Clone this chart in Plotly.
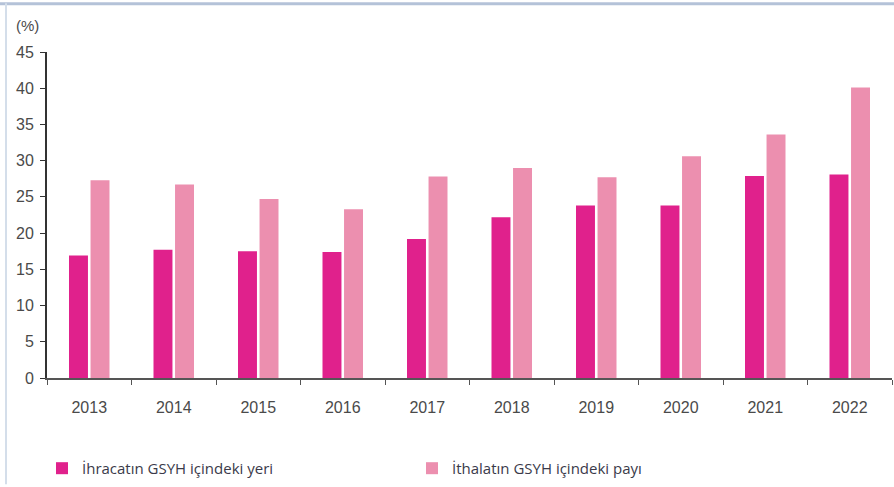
import plotly.graph_objects as go

years = ["2013", "2014", "2015", "2016", "2017", "2018", "2019", "2020", "2021", "2022"]
exports_share = [16.9, 17.7, 17.5, 17.4, 19.2, 22.2, 23.8, 23.8, 27.9, 28.1]
imports_share = [27.3, 26.7, 24.7, 23.3, 27.8, 29.0, 27.7, 30.6, 33.6, 40.1]
series_names = ["İhracatın GSYH içindeki yeri", "İthalatın GSYH içindeki payı"]
y_ticks = [0, 5, 10, 15, 20, 25, 30, 35, 40, 45]

W, H = 894, 487
ML, MR, MT, MB = 47, 2, 52, 107
pw = W - ML - MR
ph = H - MT - MB

def px_x(x):
    return (x - ML) / pw

def px_y(y):
    return (H - MB - y) / ph

fig = go.Figure()
fig.add_trace(go.Bar(x=years, y=exports_share, name=series_names[0],
                     marker=dict(color="#E0218C", line=dict(width=0))))
fig.add_trace(go.Bar(x=years, y=imports_share, name=series_names[1],
                     marker=dict(color="#EC8FAF", line=dict(width=0))))

fig.update_layout(
    width=W, height=H,
    margin=dict(l=ML, r=MR, t=MT, b=MB, pad=0),
    paper_bgcolor="white", plot_bgcolor="white",
    barmode="group", bargap=0.49, bargroupgap=0.12,
    font=dict(family="Liberation Sans, Arial, sans-serif", size=16, color="#4a4a4a"),
    showlegend=True,
    legend=dict(orientation="h", x=px_x(42), xanchor="left", y=px_y(471), yanchor="middle",
                xref="paper", yref="paper",
                font=dict(family="Open Sans, sans-serif", size=15, color="#3a3a4a"),
                entrywidth=325, entrywidthmode="pixels",
                bgcolor="rgba(0,0,0,0)", borderwidth=0, itemsizing="constant"),
    xaxis=dict(type="category", showgrid=False, showline=True, linecolor="#555555", linewidth=2,
               ticks="outside", ticklen=5, tickcolor="#555555", tickson="boundaries",
               ticklabelstandoff=14,
               tickfont=dict(size=16, color="#4a4a4a"), zeroline=False),
    yaxis=dict(range=[0, 45], tickvals=y_ticks, showgrid=False, showline=True,
               linecolor="#333333", linewidth=2, ticks="outside", ticklen=5, tickcolor="#333333",
               ticklabelstandoff=3, tickfont=dict(size=16, color="#4a4a4a"), zeroline=False),
    annotations=[dict(text="(%)", xref="paper", yref="paper", x=px_x(27), y=px_y(25),
                      xanchor="center", yanchor="middle", showarrow=False,
                      font=dict(size=15, color="#4a4a4a"))],
    shapes=[
        dict(type="line", xref="paper", yref="paper", x0=px_x(0), x1=px_x(W), y0=px_y(3.5), y1=px_y(3.5),
             line=dict(color="#B4C2D8", width=3)),
        dict(type="line", xref="paper", yref="paper", x0=px_x(6), x1=px_x(6), y0=px_y(3), y1=px_y(H),
             line=dict(color="#D4DEEA", width=2)),
    ],
)

fig.write_html("out.html")
